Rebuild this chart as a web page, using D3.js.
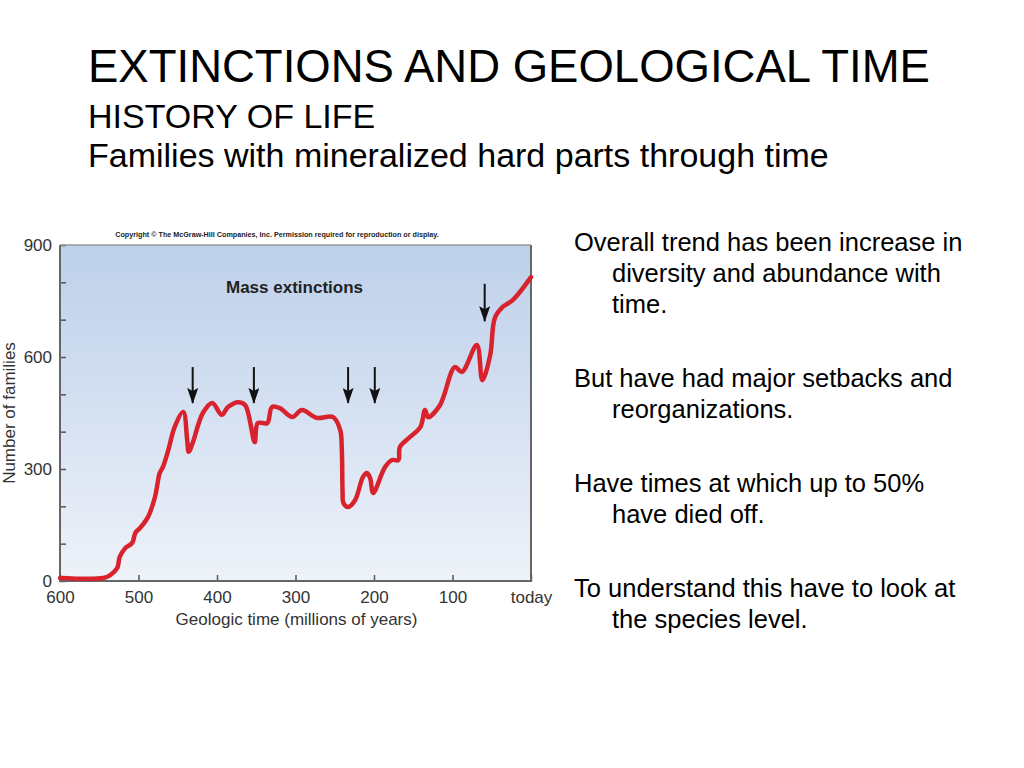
<!DOCTYPE html>
<html>
<head>
<meta charset="utf-8">
<script src="https://cdn.jsdelivr.net/npm/d3@7"></script>
<style>
  body { margin: 0; background: #fff; }
  svg { font-family: "Liberation Sans", Arial, sans-serif; }
</style>
</head>
<body>
<div id="chart"></div>
<script>
// data: millions of years ago vs number of families
var ages = [600, 545, 536, 527, 524, 517, 508, 504, 498, 488, 479, 473, 469, 462, 454, 443, 438, 436, 431, 418, 406, 394, 386, 373, 364, 352, 348, 336, 330, 320, 304, 292, 273, 252, 243, 241, 240, 239, 233, 224, 214, 209, 205, 201, 186, 177, 169, 167, 154, 141, 135, 131, 116, 97, 88, 69, 62, 52, 46, 36, 23, 0];
var families = [8, 8, 16, 35, 64, 88, 102, 129, 142, 171, 225, 289, 305, 351, 412, 453, 378, 346, 370, 450, 477, 445, 466, 479, 471, 372, 423, 423, 466, 463, 439, 458, 437, 439, 404, 351, 236, 209, 198, 217, 279, 289, 276, 236, 305, 324, 324, 359, 386, 412, 458, 439, 471, 573, 560, 632, 538, 605, 705, 734, 753, 814];

// mass extinction arrows (age, top, tip)
var arrowAges = [431, 353, 233, 199, 59];
var arrowTops = [573, 573, 573, 573, 796];
var arrowTips = [477, 477, 477, 477, 696];

var xTicks = [600, 500, 400, 300, 200, 100, 0];
var yTicks = [0, 100, 200, 300, 400, 500, 600, 700, 800, 900];

var bullets = [
  ["Overall trend has been increase in", "diversity and abundance with", "time."],
  ["But have had major setbacks and", "reorganizations."],
  ["Have times at which up to 50%", "have died off."],
  ["To understand this have to look at", "the species level."]
];

var svg = d3.select("#chart").append("svg")
    .attr("width", 1024)
    .attr("height", 768);

// titles
svg.append("text").attr("x", 88).attr("y", 82)
    .attr("font-size", 45.5).attr("fill", "#000")
    .text("EXTINCTIONS AND GEOLOGICAL TIME");
svg.append("text").attr("x", 88).attr("y", 128)
    .attr("font-size", 34).attr("fill", "#000")
    .text("HISTORY OF LIFE");
svg.append("text").attr("x", 88).attr("y", 167)
    .attr("font-size", 34).attr("fill", "#000")
    .text("Families with mineralized hard parts through time");

// chart
var margin = {top: 245, left: 60},
    width = 471,
    height = 336;

var g = svg.append("g")
    .attr("transform", "translate(" + margin.left + "," + margin.top + ")");

var defs = svg.append("defs");
var grad = defs.append("linearGradient").attr("id", "bg")
    .attr("x1", 0).attr("y1", 0).attr("x2", 0).attr("y2", 1);
grad.append("stop").attr("offset", "0%").attr("stop-color", "#bdd0ea");
grad.append("stop").attr("offset", "100%").attr("stop-color", "#eef2f9");

defs.append("marker").attr("id", "head")
    .attr("viewBox", "0 0 16 11")
    .attr("refX", 15).attr("refY", 5.5)
    .attr("markerWidth", 16).attr("markerHeight", 11)
    .attr("markerUnits", "userSpaceOnUse")
    .attr("orient", "auto")
  .append("path").attr("d", "M0,0 L16,5.5 L0,11 L3,5.5 Z").attr("fill", "#111");

var x = d3.scaleLinear().domain([600, 0]).range([0, width]);
var y = d3.scaleLinear().domain([0, 900]).range([height, 0]);

g.append("rect")
    .attr("width", width).attr("height", height)
    .attr("fill", "url(#bg)");

svg.append("text").attr("x", 277).attr("y", 237)
    .attr("text-anchor", "middle")
    .attr("font-size", 7.2).attr("font-weight", "bold").attr("fill", "#222")
    .text("Copyright \u00a9 The McGraw-Hill Companies, Inc. Permission required for reproduction or display.");

var xAxis = d3.axisBottom(x).tickValues(xTicks).tickSize(-6).tickPadding(10)
    .tickFormat(function(d) { return d === 0 ? "today" : d; });
g.append("g")
    .attr("transform", "translate(0," + height + ")")
    .call(xAxis)
    .call(function(s) { s.select(".domain").remove(); })
    .call(function(s) { s.selectAll("text").attr("font-size", 17).attr("fill", "#333").attr("font-family", null); })
    .call(function(s) { s.selectAll("line").attr("stroke", "#555").attr("stroke-width", 1.5); });

var yAxis = d3.axisLeft(y).tickValues(yTicks).tickSize(-6).tickPadding(8)
    .tickFormat(function(d) { return d % 300 === 0 ? d : ""; });
g.append("g")
    .call(yAxis)
    .call(function(s) { s.select(".domain").remove(); })
    .call(function(s) { s.selectAll("text").attr("font-size", 17).attr("fill", "#333").attr("font-family", null); })
    .call(function(s) { s.selectAll("line").attr("stroke", "#555").attr("stroke-width", 1.5); });

// frame
g.append("path")
    .attr("d", "M0,0 V" + height + " H" + width + " V0")
    .attr("fill", "none").attr("stroke", "#666").attr("stroke-width", 2);
g.append("line").attr("x1", 0).attr("x2", width)
    .attr("stroke", "#999").attr("stroke-width", 1.5);

g.append("text").attr("x", 166).attr("y", 48)
    .attr("font-size", 17).attr("font-weight", "bold").attr("fill", "#222")
    .text("Mass extinctions");

// curve
var line = d3.line()
    .x(function(d, i) { return x(ages[i]); })
    .y(function(d, i) { return y(families[i]); })
    .curve(d3.curveCatmullRom.alpha(0.5));

g.append("path")
    .datum(families)
    .attr("fill", "none")
    .attr("stroke", "#d8232e")
    .attr("stroke-width", 4.5)
    .attr("stroke-linejoin", "round")
    .attr("stroke-linecap", "round")
    .attr("d", line);

// arrows
g.selectAll(".arrow")
    .data(arrowAges)
    .enter().append("line")
    .attr("class", "arrow")
    .attr("x1", function(d) { return x(d); })
    .attr("x2", function(d) { return x(d); })
    .attr("y1", function(d, i) { return y(arrowTops[i]); })
    .attr("y2", function(d, i) { return y(arrowTips[i]); })
    .attr("stroke", "#111").attr("stroke-width", 2)
    .attr("marker-end", "url(#head)");

// axis titles
g.append("text")
    .attr("x", width / 2 + 1).attr("y", height + 44)
    .attr("text-anchor", "middle")
    .attr("font-size", 17).attr("fill", "#333")
    .text("Geologic time (millions of years)");
g.append("text")
    .attr("transform", "translate(-45," + (height / 2) + ") rotate(-90)")
    .attr("text-anchor", "middle")
    .attr("font-size", 17).attr("fill", "#333")
    .text("Number of families");

// bullet text on the right
var ty = 251;
bullets.forEach(function(par) {
  par.forEach(function(t, j) {
    svg.append("text")
        .attr("x", j === 0 ? 574 : 612)
        .attr("y", ty + j * 31)
        .attr("font-size", 25.5).attr("fill", "#000")
        .text(t);
  });
  ty += 31 * (par.length - 1) + 74;
});
</script>
</body>
</html>
